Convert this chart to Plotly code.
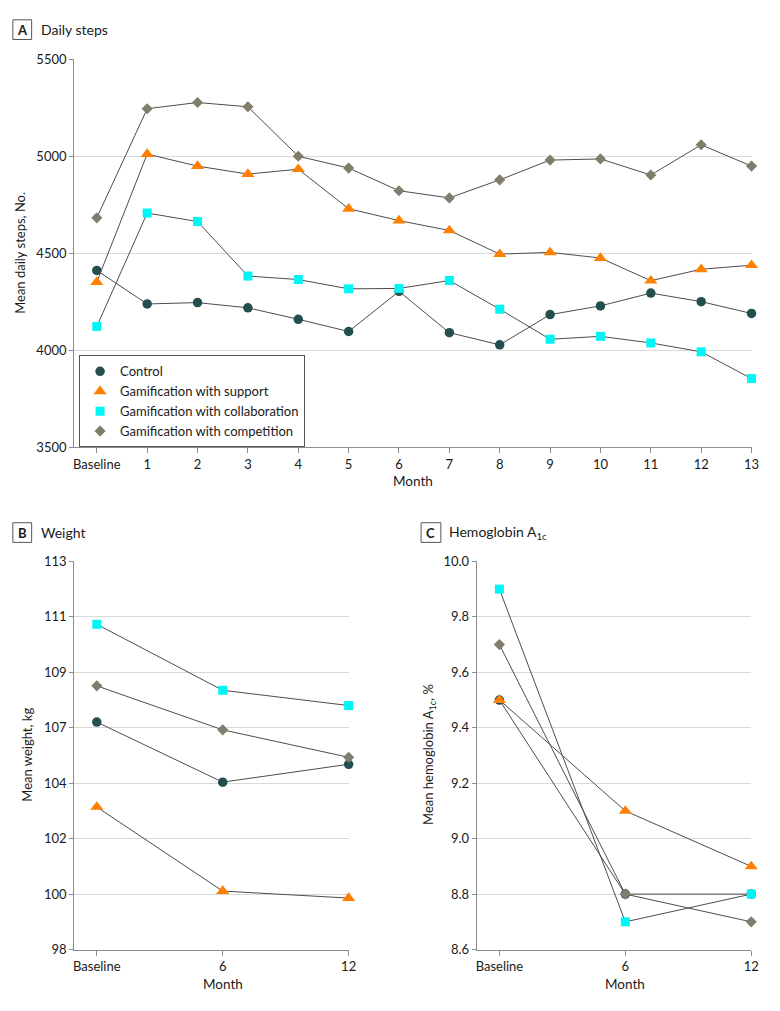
import numpy as np
import plotly.graph_objects as go

# ---------------- data ----------------
groups = ["Control", "Gamification with support",
          "Gamification with collaboration", "Gamification with competition"]

steps_months = ["Baseline", "1", "2", "3", "4", "5", "6", "7", "8", "9", "10", "11", "12", "13"]
steps_control = [4412, 4239, 4246, 4219, 4160, 4097, 4304, 4091, 4028, 4184, 4229, 4295, 4251, 4190]
steps_support = [4352, 5012, 4950, 4909, 4934, 4730, 4669, 4618, 4496, 4505, 4476, 4359, 4418, 4439]
steps_collab = [4123, 4708, 4664, 4383, 4365, 4317, 4319, 4360, 4212, 4057, 4072, 4038, 3992, 3854]
steps_compet = [4683, 5246, 5278, 5256, 5001, 4940, 4823, 4786, 4879, 4981, 4987, 4904, 5060, 4950]

fu_months = ["Baseline", "6", "12"]
weight_control = [106.79, 104.47, 105.16]
weight_support = [103.51, 100.26, 99.99]
weight_collab = [110.57, 108.02, 107.43]
weight_compet = [108.19, 106.49, 105.43]
weight_tick_labels = ["98", "100", "102", "104", "107", "109", "111", "113"]

a1c_control = [9.5, 8.8, 8.8]
a1c_support = [9.5, 9.1, 8.9]
a1c_collab = [9.9, 8.7, 8.8]
a1c_compet = [9.7, 8.8, 8.7]
a1c_tick_labels = ["8.6", "8.8", "9.0", "9.2", "9.4", "9.6", "9.8", "10.0"]

# ---------------- styles ----------------
colors = ["#234f4f", "#ff7f00", "#00f5f5", "#807e6a"]
symbols = ["circle", "triangle-up", "square", "diamond"]
sizes = [9.5, 11.5, 9, 8.6]
LINE = "#4d4d4d"
GRID = "#d9d9d9"
AXIS = "#8c8c8c"
FONT = "Lato"
TXT = "#1a1a1a"

W, H = 780, 1011


def px_x(x):
    return x / W


def px_y(y):
    return 1 - y / H


fig = go.Figure()

steps_series = [steps_control, steps_support, steps_collab, steps_compet]
weight_series = [weight_control, weight_support, weight_collab, weight_compet]
a1c_series = [a1c_control, a1c_support, a1c_collab, a1c_compet]

xs_steps = list(range(len(steps_months)))
xs_fu = list(range(len(fu_months)))

for axes, xs, series in [(("x", "y"), xs_steps, steps_series),
                         (("x2", "y2"), xs_fu, weight_series),
                         (("x3", "y3"), xs_fu, a1c_series)]:
    for i, vals in enumerate(series):
        fig.add_trace(go.Scatter(
            x=xs, y=vals, xaxis=axes[0], yaxis=axes[1],
            mode="lines+markers", name=groups[i], showlegend=False,
            line=dict(color=LINE, width=1),
            marker=dict(symbol=symbols[i], color=colors[i], size=sizes[i], line=dict(width=0)),
            cliponaxis=False, hoverinfo="skip",
        ))

# legend-only traces (markers only)
for i, g in enumerate(groups):
    fig.add_trace(go.Scatter(
        x=[None], y=[None], xaxis="x", yaxis="y", mode="markers", name=g,
        marker=dict(symbol=symbols[i], color=colors[i], size=sizes[i], line=dict(width=0)),
        showlegend=True,
    ))

common_x = dict(showgrid=False, zeroline=False, showline=True, linecolor=AXIS, linewidth=1,
                ticks="outside", ticklen=5, tickcolor=AXIS, tickfont=dict(family=FONT, size=13, color=TXT),
                tickmode="array")
common_y = dict(showgrid=True, gridcolor=GRID, gridwidth=1, zeroline=False, showline=True,
                linecolor=AXIS, linewidth=1, ticks="outside", ticklen=4, tickcolor=AXIS,
                tickfont=dict(family=FONT, size=13, color=TXT), tickmode="array")

fig.update_layout(
    width=W, height=H, margin=dict(l=0, r=0, t=0, b=0),
    paper_bgcolor="white", plot_bgcolor="white",
    font=dict(family=FONT, size=13, color=TXT),
    xaxis=dict(domain=[px_x(74), px_x(759.3)], range=[-0.45, 13], anchor="y",
               tickvals=xs_steps, ticktext=steps_months, **common_x),
    yaxis=dict(domain=[px_y(446.3), px_y(52.3)], range=[3500, 5500], anchor="x",
               tickvals=[3500, 4000, 4500, 5000, 5500], **common_y),
    xaxis2=dict(domain=[px_x(74), px_x(351.7)], range=[-0.18, 2], anchor="y2",
                tickvals=xs_fu, ticktext=fu_months, **common_x),
    yaxis2=dict(domain=[px_y(956.7), px_y(562.3)], range=[98, 113], anchor="x2",
                tickvals=list(np.linspace(98, 113, len(weight_tick_labels))),
                ticktext=weight_tick_labels, **common_y),
    xaxis3=dict(domain=[px_x(481.3), px_x(759)], range=[-0.18, 2], anchor="y3",
                tickvals=xs_fu, ticktext=fu_months, **common_x),
    yaxis3=dict(domain=[px_y(956.7), px_y(562.3)], range=[8.6, 10.0], anchor="x3",
                tickvals=list(np.linspace(8.6, 10.0, len(a1c_tick_labels))),
                ticktext=a1c_tick_labels, **common_y),
    showlegend=True,
    legend=dict(x=px_x(79), y=px_y(353), xanchor="left", yanchor="top",
                bordercolor="#555555", borderwidth=1, bgcolor="white",
                font=dict(family=FONT, size=13, color=TXT), itemwidth=30,
                tracegroupgap=0),
    hovermode=False,
)

ann = []
shapes = []


def label_box(letter, x0, y0, x1, y1):
    shapes.append(dict(type="rect", xref="paper", yref="paper",
                       x0=px_x(x0), x1=px_x(x1), y0=px_y(y1), y1=px_y(y0),
                       line=dict(color="#555555", width=1), fillcolor="white"))
    ann.append(dict(text="<b>%s</b>" % letter, x=px_x((x0 + x1) / 2), y=px_y((y0 + y1) / 2),
                    xref="paper", yref="paper", xanchor="center", yanchor="middle",
                    showarrow=False, font=dict(family=FONT, size=13, color=TXT)))


def text(t, x, y, xanchor="left", angle=0, size=13.5):
    ann.append(dict(text=t, x=px_x(x), y=px_y(y), xref="paper", yref="paper",
                    xanchor=xanchor, yanchor="middle", showarrow=False, textangle=angle,
                    font=dict(family=FONT, size=size, color=TXT)))


label_box("A", 12, 12, 31, 32)
text("Daily steps", 38, 22, size=14)
label_box("B", 12, 523, 31, 543)
text("Weight", 38, 533, size=14)
label_box("C", 425, 523, 445, 543)
text("Hemoglobin A<sub>1c</sub>", 451, 533, size=14)

text("Month", 416.5, 481, xanchor="center")
text("Month", 224.3, 992, xanchor="center")
text("Month", 631.7, 992, xanchor="center")

text("Mean daily steps, No.", 19, 249, xanchor="center", angle=-90, size=13)
text("Mean weight, kg", 26, 759, xanchor="center", angle=-90, size=13)
text("Mean hemoglobin A<sub>1c</sub>, %", 433, 759, xanchor="center", angle=-90, size=13)

fig.update_layout(annotations=ann, shapes=shapes)

fig.write_html(
    "out.html",
    config={"displayModeBar": False, "staticPlot": True},
    post_script=("document.documentElement.style.margin='0';"
                 "document.documentElement.style.padding='0';"
                 "document.documentElement.style.overflow='hidden';"
                 "document.body.style.margin='0';"
                 "document.body.style.padding='0';"
                 "document.body.style.overflow='hidden';"),
)
